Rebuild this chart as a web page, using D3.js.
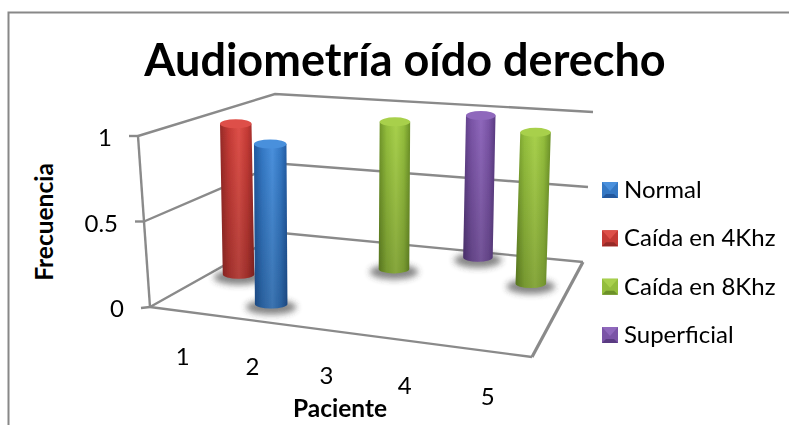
<!DOCTYPE html>
<html><head><meta charset="utf-8">
<script src="https://cdn.jsdelivr.net/npm/d3@7"></script>
<style>html,body{margin:0;padding:0;background:#fff}svg{display:block}text{font-family:Lato,"Open Sans",sans-serif;fill:#000}</style>
</head><body><svg id="c" width="789" height="425"></svg>
<script>
const title = "Audiometría oído derecho";
const xTitle = "Paciente";
const yTitle = "Frecuencia";
const patients = ["1","2","3","4","5"];
const seriesNames = ["Normal","Caída en 4Khz","Caída en 8Khz","Superficial"];
const normal     = [0,1,0,0,0];
const caida4     = [1,0,0,0,0];
const caida8     = [0,0,1,0,1];
const superficial= [0,0,0,1,0];
const seriesValues = [normal,caida4,caida8,superficial];
const valueTicks = [0,0.5,1];
const baseColors = ["#3478c4","#c43a35","#93bd3c","#7a54a6"];
const lightColors = ["#4a90dc","#de5049","#a8d04c","#8f68bc"];
const darkColors = ["#22589e","#962a27","#6c9128","#5a3b82"];

const svg = d3.select("#c");
const defs = svg.append("defs");
defs.append("filter").attr("id","soft").append("feGaussianBlur").attr("stdDeviation",0.5);
defs.append("filter").attr("id","sh").attr("x","-50%").attr("y","-100%").attr("width","200%").attr("height","300%").append("feGaussianBlur").attr("stdDeviation",3);
seriesNames.forEach((s,i)=>{
  const g = defs.append("linearGradient").attr("id","g"+i);
  [[0,darkColors[i]],[0.25,baseColors[i]],[0.55,lightColors[i]],[0.8,baseColors[i]],[1,darkColors[i]]]
    .forEach(([o,c])=>g.append("stop").attr("offset",o).attr("stop-color",c));
});
const ov = defs.append("linearGradient").attr("id","ov").attr("x1",0).attr("x2",0).attr("y1",0).attr("y2",1);
ov.append("stop").attr("offset",0).attr("stop-color","#000").attr("stop-opacity",0);
ov.append("stop").attr("offset",1).attr("stop-color","#000").attr("stop-opacity",0.2);

// perspective helpers
function homography(q){
  const [[x0,y0],[x1,y1],[x2,y2],[x3,y3]] = q;
  const dx1=x1-x2,dx2=x3-x2,sx=x0-x1+x2-x3,dy1=y1-y2,dy2=y3-y2,sy=y0-y1+y2-y3;
  const det=dx1*dy2-dx2*dy1,g=(sx*dy2-dx2*sy)/det,h=(dx1*sy-sx*dy1)/det;
  const a=x1-x0+g*x1,b=x3-x0+h*x3,d=y1-y0+g*y1,e=y3-y0+h*y3;
  return (u,v)=>{const w=g*u+h*v+1;return [(a*u+b*v+x0)/w,(d*u+e*v+y0)/w];};
}
const floorH = homography([[150,307],[532,357],[583,262],[282,233]]);
const uScale = d3.scaleBand().domain(patients).range([0,1]);
const vScale = d3.scaleBand().domain(seriesNames).range([0,1]);
const tScale = d3.scaleLinear().domain([0,1]).range([0,1]);
// lean of the verticals and height of the unit value across the floor
const leanScale = d3.scaleLinear().domain([0,0.1,0.9,1]).range([-12,-3,5,10]);
const heightFront = d3.scaleLinear().domain([0,1]).range([171,182]);
const heightBack = d3.scaleLinear().domain([0,1]).range([139,150]);
const project = (u,v,val)=>{
  const a=floorH(u,v),t=tScale(val);
  const lean=leanScale(u)+5*v*(1-Math.min(u/0.1,1));
  const hgt=heightFront(u)+(heightBack(u)-heightFront(u))*v;
  return [a[0]+lean*t,a[1]-hgt*t];
};
const rScale = d3.scaleLinear().domain([0,1]).range([16.5,14.5]);
const line = d3.line();
const barReach = 0.94;
const barLift = 4;

// frame
svg.append("path").attr("d","M8.5,425V12.5H789").attr("fill","none").attr("stroke","#888").attr("stroke-width",2);

// walls and floor
const grid = svg.append("g").attr("fill","none").attr("stroke","#8a8a8a").attr("stroke-width",2.4).attr("filter","url(#soft)");
valueTicks.forEach(t=>{
  grid.append("path").attr("d",line([project(0,0,t),project(0,1,t),project(1,1,t)]));
  const p=project(0,0,t);
  grid.append("path").attr("d",line([[p[0]-9,p[1]+(t===0?1:0)],p]));
});
grid.append("path").attr("d",line([project(0,0,0),project(0,0,1)]));
grid.append("path").attr("d",line([project(0,0,0),project(1,0,0)]));
grid.append("path").attr("d",line([project(1,0,0),project(1,1,0)])).attr("stroke-width",3.2);

// cylinders, back series first
const bars = [];
seriesNames.forEach((s,si)=>patients.forEach((p,pi)=>{ if(seriesValues[si][pi]>0) bars.push({s,si,p,val:seriesValues[si][pi]}); }));
bars.sort((a,b)=>b.si-a.si);
const ry=4.5;
const gb = svg.append("g").attr("filter","url(#soft)").attr("transform",`translate(0,${-barLift})`);
bars.forEach(d=>{
  const u=uScale(d.p)+uScale.bandwidth()/2, v=vScale(d.s)+vScale.bandwidth()/2;
  const b=project(u,v,0), t=project(u,v,d.val*barReach), r=rScale(v);
  const g=gb.append("g");
  g.append("ellipse").attr("cx",b[0]).attr("cy",b[1]+3).attr("rx",r+9).attr("ry",ry+3).attr("fill","#444").attr("opacity",0.65).attr("filter","url(#sh)");
  const body=`M${t[0]-r},${t[1]}L${b[0]-r},${b[1]}A${r},${ry} 0 0 0 ${b[0]+r},${b[1]}L${t[0]+r},${t[1]}Z`;
  g.append("path").attr("d",body).attr("fill",`url(#g${d.si})`);
  g.append("path").attr("d",body).attr("fill","url(#ov)");
  g.append("ellipse").attr("cx",t[0]).attr("cy",t[1]).attr("rx",r).attr("ry",ry).attr("fill",lightColors[d.si]);
});

// text
svg.append("text").attr("x",405).attr("y",76).attr("text-anchor","middle").attr("font-weight",700).attr("font-size",45).text(title);
valueTicks.forEach(t=>{
  const p=project(0,0,t);
  svg.append("text").attr("x",p[0]-26).attr("y",p[1]+10).attr("text-anchor","end").attr("font-size",24).text(String(t));
});
patients.forEach(p=>{
  const a=project(uScale(p)+uScale.bandwidth()/2,0,0);
  svg.append("text").attr("x",a[0]-1).attr("y",a[1]+54).attr("text-anchor","middle").attr("font-size",24).text(p);
});
svg.append("text").attr("x",340).attr("y",417).attr("text-anchor","middle").attr("font-weight",700).attr("font-size",24.5).text(xTitle);
svg.append("text").attr("transform","translate(53,222) rotate(-90)").attr("text-anchor","middle").attr("font-weight",700).attr("font-size",24.5).text(yTitle);

// legend
const legY = d3.scalePoint().domain(seriesNames).range([190,335]);
seriesNames.forEach((s,i)=>{
  const y=legY(s),x0=602,x1=618,y0=y-8,y1=y+8,m=(y0+y1)/2,cx=(x0+x1)/2,n=4;
  const g=svg.append("g");
  g.append("rect").attr("x",x0).attr("y",y0).attr("width",16).attr("height",16).attr("fill",baseColors[i]);
  g.append("path").attr("d",`M${x0},${y0}H${x1}L${cx},${m+1}Z`).attr("fill",lightColors[i]);
  g.append("path").attr("d",`M${x0},${y1}H${x1}L${x1-n},${y1-n}H${x0+n}Z`).attr("fill",darkColors[i]);
  svg.append("text").attr("x",624).attr("y",y+8).attr("font-size",24).text(s);
});
</script></body></html>
